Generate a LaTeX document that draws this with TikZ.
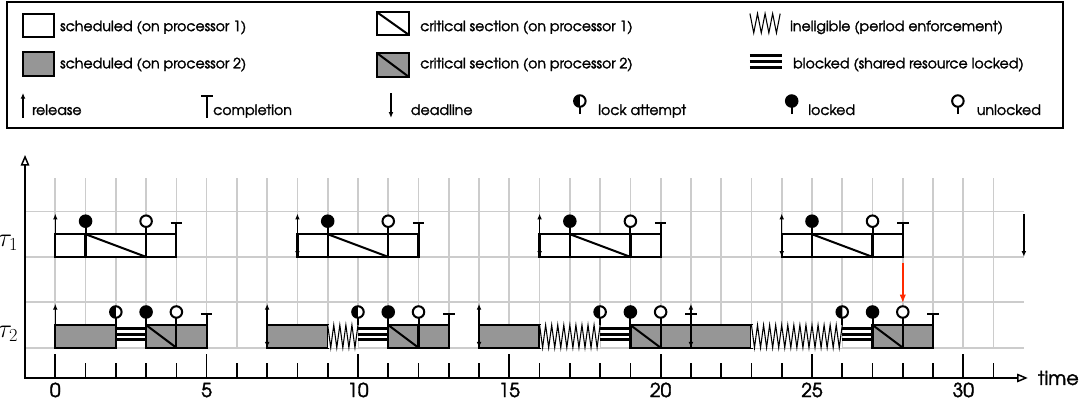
\documentclass[tikz,border=0pt]{standalone}
\usepackage{fontspec}
\setmainfont{texgyreadventor-regular.otf}[BoldFont=texgyreadventor-bold.otf, FakeBold=2]
\newfontfamily\legfont{texgyreadventor-regular.otf}[FakeBold=2]
\usetikzlibrary{arrows.meta}
\definecolor{gridgray}{HTML}{CCCCCC}
\definecolor{boxgray}{HTML}{969696}
\definecolor{redarrow}{HTML}{FF2A00}
\tikzset{
  smalltip/.tip={Latex[length=5.5pt,width=4.5pt]},
  axistip/.tip={Triangle[open,length=10pt,width=8pt,line width=1.4pt]},
  gridline/.style={gridgray, line width=1.6pt},
  tickline/.style={black, line width=1.6pt},
  axisline/.style={black, line width=1.8pt},
  boxline/.style={draw=black, line width=2.1pt},
  stem/.style={black, line width=1.9pt},
  arrline/.style={black, line width=1.3pt},
  zigline/.style={black, line width=1pt},
  blockline/.style={black, line width=2.8pt},
  legtext/.style={anchor=base west, inner sep=0pt, font=\legfont\fontsize{13.3}{15}\selectfont},
  numtext/.style={anchor=base, inner sep=0pt, font=\fontsize{18}{20}\selectfont},
  pklock/.pic={\draw[stem] (0,0) -- (0,0.25); \draw[stem, fill=black] (0,0.43) circle (0.19);},
  pkunlock/.pic={\draw[stem] (0,0) -- (0,0.25); \draw[stem, fill=white] (0,0.43) circle (0.19);},
  pkattempt/.pic={\draw[stem] (0,0) -- (0,0.25);
     \fill[white] (0,0.43) circle (0.19);
     \fill[black] (0,0.62) arc[start angle=90, end angle=270, radius=0.19] -- cycle;
     \draw[stem] (0,0.43) circle (0.19);},
  pkdone/.pic={\draw[stem] (0,0) -- (0,0.36); \draw[stem] (-0.19,0.36) -- (0.19,0.36);},
}
\begin{document}
\begin{tikzpicture}
\useasboundingbox (-1.827,-0.991) rectangle (34.02,12.488);

% ---------------- legend ----------------
\draw[black, line width=1.7pt] (-1.595,8.26) rectangle (33.29,12.42);
\draw[boxline, fill=white] (-1.067,11.27) rectangle (-0.043,12.03);
\node[legtext] (l1) at (0.155,11.46) {scheduled (on processor 1)};
\draw[boxline, fill=boxgray] (-1.067,9.98) rectangle (-0.043,10.77);
\node[legtext] (l2) at (0.155,10.23) {scheduled (on processor 2)};
\draw[arrline, -smalltip] (-1.067,8.59) -- (-1.067,9.42);
\node[legtext] (l3) at (-0.77,8.69) {release};
\draw[stem] (5.01,8.59) -- (5.01,9.32);
\draw[stem] (4.82,9.32) -- (5.2,9.32);
\node[legtext] (l4) at (5.21,8.69) {completion};

\draw[boxline, fill=white] (10.62,11.33) rectangle (11.69,12.09);
\draw[stem] (10.62,12.09) -- (11.69,11.33);
\node[legtext] (l5) at (12.05,11.46) {critical section (on processor 1)};
\draw[boxline, fill=boxgray] (10.62,9.94) rectangle (11.69,10.74);
\draw[stem] (10.62,10.74) -- (11.69,9.94);
\node[legtext] (l6) at (12.05,10.23) {critical section (on processor 2)};
\draw[arrline, smalltip-] (11.09,8.59) -- (11.09,9.42);
\node[legtext] (l7) at (11.74,8.69) {deadline};
\pic at (17.33,8.72) {pkattempt};
\node[legtext] (l8) at (17.93,8.69) {lock attempt};

\draw[zigline] (22.95,12.04) \foreach \i in {1,...,4} { -- ++(0.125,-0.64) -- ++(0.125,0.64) };
\node[legtext] (l9) at (24.27,11.46) {ineligible (period enforcement)};
\foreach \y in {10.64,10.44,10.25} \draw[blockline] (22.95,\y) -- (24.0,\y);
\node[legtext] (l10) at (24.37,10.23) {blocked (shared resource locked)};
\pic at (24.33,8.72) {pklock};
\node[legtext] (l11) at (24.87,8.69) {locked};
\pic at (29.82,8.72) {pkunlock};
\node[legtext] (l12) at (30.44,8.69) {unlocked};

% ---------------- grid ----------------
\foreach \x in {0,...,31} \draw[gridline] (\x,1) -- (\x,6.6);
\foreach \y in {1,2.5,4,5.5} \draw[gridline] (-1,\y) -- (32,\y);
\foreach \x in {0,...,31} \draw[tickline] (\x,0) -- (\x,0.5);
\foreach \x in {0,5,...,30} {
  \draw[tickline] (\x,0) -- (\x,0.8);
  \node[numtext] (n\x) at (\x,-0.63) {\x};
}
\draw[axisline, axistip-axistip] (-1,7.37) -- (-1,0) -- (32.13,0);
\node[numtext, anchor=base west] (timelabel) at (32.46,-0.23) {time};

\node[anchor=base east, inner sep=0pt, font=\fontsize{26}{30}\selectfont] (tau1) at (-1.22,4.34) {$\tau_1$};
\node[anchor=base east, inner sep=0pt, font=\fontsize{26}{30}\selectfont] (tau2) at (-1.22,1.34) {$\tau_2$};

% ---------------- task 1 ----------------
\foreach \s in {0,8,16,24} {
  \draw[boxline, fill=white] (\s,4) rectangle ++(1,0.75);
  \draw[boxline, fill=white] ({\s+1},4) rectangle ++(2,0.75);
  \draw[boxline, fill=white] ({\s+3},4) rectangle ++(1,0.75);
  \draw[stem] ({\s+1},4.75) -- ({\s+3},4);
  \pic at ({\s+1},4.75) {pklock};
  \pic at ({\s+3},4.75) {pkunlock};
  \pic at ({\s+4},4.75) {pkdone};
}
\draw[arrline, -smalltip] (0,4) -- (0,5.43);
\foreach \s in {8,16,24} \draw[arrline, smalltip-smalltip] (\s,4) -- (\s,5.43);
\draw[arrline, smalltip-] (32,4) -- (32,5.43);

% ---------------- task 2 ----------------
\foreach \r/\a in {0/2,7/10,14/18,21/26} {
  \draw[boxline, fill=boxgray] (\r,1) rectangle ({\r+2},1.75);
  \ifnum\a>\numexpr\r+2\relax
    \fill[white] ({\r+2},1) rectangle (\a,1.75);
  \fi
  \foreach \y in {1.63,1.445,1.26} \draw[blockline] (\a,\y) -- ({\a+1},\y);
  \draw[boxline, fill=boxgray] ({\a+1},1) rectangle ++(1,0.75);
  \draw[stem] ({\a+1},1.75) -- ({\a+2},1);
  \draw[boxline, fill=boxgray] ({\a+2},1) rectangle ++(1,0.75);
  \pic at (\a,1.75) {pkattempt};
  \pic at ({\a+1},1.75) {pklock};
  \pic at ({\a+2},1.75) {pkunlock};
  \pic at ({\a+3},1.75) {pkdone};
}
\draw[zigline] (9,1.75) \foreach \i in {1,...,5} { -- ++(0.1,-0.75) -- ++(0.1,0.75) };
\draw[zigline] (16,1.75) \foreach \i in {1,...,10} { -- ++(0.1,-0.75) -- ++(0.1,0.75) };
\draw[zigline] (23,1.75) \foreach \i in {1,...,15} { -- ++(0.1,-0.75) -- ++(0.1,0.75) };
\draw[arrline, -smalltip] (0,1) -- (0,2.45);
\foreach \s in {7,14,21} \draw[arrline, smalltip-smalltip] (\s,1) -- (\s,2.45);

\coordinate (redtop) at (28,3.79);
\coordinate (redbot) at (28,2.47);
\draw[redarrow, line width=1.8pt, -{Latex[length=8pt,width=6pt]}] (redtop) -- (redbot);
\end{tikzpicture}
\end{document}
